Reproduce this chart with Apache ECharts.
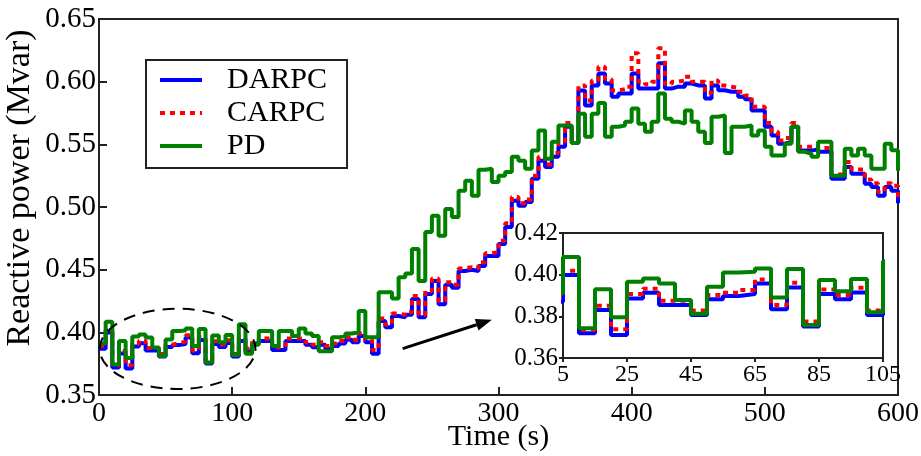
<!DOCTYPE html>
<html><head><meta charset="utf-8">
<script src="https://cdn.jsdelivr.net/npm/echarts@6/dist/echarts.min.js"></script>
<style>html,body{margin:0;padding:0;background:#fff}#c{width:921px;height:456px}</style>
</head><body><div id="c"></div>
<script>
// time stamps (s), one value every 5 s
const times = Array.from({length: 121}, (_, i) => i * 5);

const darpc = [
0.387,0.3998,0.3719,0.3831,0.3711,0.3886,0.3913,0.3855,0.3855,0.3807,
0.3882,0.3898,0.3907,0.3958,0.3834,0.3939,0.3751,0.3907,0.3882,0.3915,
0.3807,0.393,0.385,0.391,0.393,0.393,0.386,0.386,0.393,0.393,
0.393,0.390,0.388,0.390,0.387,0.389,0.391,0.394,0.392,0.397,
0.392,0.383,0.409,0.404,0.413,0.412,0.414,0.4265,0.412,0.4305,
0.441,0.4225,0.438,0.4355,0.449,0.450,0.449,0.453,0.461,0.461,
0.4705,0.484,0.505,0.501,0.504,0.5225,0.537,0.532,0.540,0.548,
0.564,0.551,0.593,0.581,0.597,0.6066,0.5985,0.588,0.5905,0.5905,
0.6066,0.5945,0.5945,0.5945,0.6146,0.5945,0.596,0.596,0.5985,0.597,
0.597,0.5865,0.597,0.5932,0.592,0.592,0.588,0.586,0.577,0.577,
0.564,0.557,0.5505,0.552,0.564,0.545,0.545,0.546,0.544,0.544,
0.5225,0.5225,0.532,0.5265,0.5265,0.5185,0.516,0.509,0.516,0.513,
0.503];

const carpc = [
0.389,0.4019,0.3735,0.3851,0.3738,0.3907,0.3933,0.3875,0.3875,0.3828,
0.3902,0.3913,0.3926,0.3977,0.3855,0.3961,0.3775,0.3929,0.3902,0.3937,
0.3828,0.396,0.387,0.393,0.395,0.395,0.388,0.388,0.395,0.395,
0.395,0.392,0.390,0.392,0.389,0.391,0.393,0.396,0.394,0.399,
0.394,0.386,0.411,0.406,0.415,0.414,0.416,0.429,0.414,0.433,
0.443,0.425,0.440,0.438,0.451,0.452,0.451,0.456,0.463,0.464,
0.473,0.487,0.508,0.503,0.506,0.525,0.540,0.534,0.543,0.552,
0.567,0.553,0.597,0.585,0.601,0.612,0.602,0.593,0.594,0.596,
0.6226,0.600,0.598,0.600,0.6266,0.598,0.600,0.601,0.604,0.600,
0.600,0.591,0.601,0.597,0.596,0.595,0.592,0.589,0.580,0.580,
0.567,0.560,0.553,0.555,0.567,0.548,0.548,0.549,0.547,0.547,
0.526,0.526,0.536,0.530,0.530,0.522,0.519,0.512,0.519,0.517,
0.507];

const pd = [
0.391,0.4085,0.3743,0.393,0.3796,0.3966,0.3982,0.3958,0.3878,0.3812,
0.3942,0.401,0.4014,0.403,0.389,0.4027,0.3759,0.3974,0.3921,0.3979,
0.382,0.4065,0.383,0.390,0.401,0.401,0.389,0.401,0.401,0.397,
0.403,0.399,0.397,0.385,0.385,0.396,0.397,0.399,0.400,0.417,
0.396,0.396,0.432,0.432,0.427,0.444,0.447,0.4665,0.441,0.480,
0.493,0.477,0.4985,0.492,0.513,0.521,0.509,0.5297,0.5305,0.520,
0.525,0.528,0.540,0.537,0.5305,0.545,0.561,0.5385,0.552,0.565,
0.565,0.551,0.5745,0.556,0.5745,0.583,0.556,0.564,0.565,0.568,
0.5785,0.5665,0.560,0.568,0.5905,0.5705,0.568,0.5665,0.577,0.568,
0.560,0.551,0.572,0.573,0.543,0.564,0.564,0.565,0.557,0.561,
0.548,0.541,0.541,0.5505,0.564,0.544,0.5425,0.540,0.552,0.552,
0.525,0.525,0.5465,0.541,0.5465,0.541,0.5305,0.5305,0.5505,0.5452,
0.529];

const seriesNames = ['DARPC', 'CARPC', 'PD'];
const insetXTicks = [5, 25, 45, 65, 85, 105];

const font = 'Liberation Serif';
const axisColor = '#222';

function pairs(vals, lo, hi) {
  return times.map((t, i) => [t, vals[i]]).filter(p => p[0] >= lo && p[0] <= hi);
}
const lineStyles = {
  DARPC: {color: '#0000ff', width: 4, type: 'solid'},
  CARPC: {color: '#ff0000', width: 4, type: [5, 5]},
  PD:    {color: '#008000', width: 4, type: 'solid'}
};
function mk(name, vals, idx, lo, hi) {
  const s = lineStyles[name];
  return {
    name, type: 'line', step: 'end', xAxisIndex: idx, yAxisIndex: idx,
    data: pairs(vals, lo, hi), symbol: 'none', clip: true, animation: false,
    lineStyle: {color: s.color, width: s.width, type: s.type},
    itemStyle: {color: s.color},
    emphasis: {disabled: true}
  };
}

const chart = echarts.init(document.getElementById('c'), null, {renderer: 'canvas'});
const option = {
  backgroundColor: '#fff',
  animation: false,
  grid: [
    {left: 99, right: 23, top: 19, bottom: 61, outerBoundsMode: 'none', containLabel: false,
     show: true, borderColor: axisColor, borderWidth: 2, backgroundColor: 'transparent'},
    {left: 563, width: 320, top: 233, height: 125, outerBoundsMode: 'none', containLabel: false,
     show: true, borderColor: axisColor, borderWidth: 2, backgroundColor: '#fff', z: 10}
  ],
  legend: {
    data: seriesNames, orient: 'vertical', left: 146, top: 60,
    itemWidth: 42, itemHeight: 14, itemGap: 3, padding: [5, 20, 7, 12],
    borderColor: axisColor, borderWidth: 2, backgroundColor: '#fff',
    itemStyle: {opacity: 0, borderWidth: 0},
    lineStyle: {width: 4},
    textStyle: {fontFamily: font, fontSize: 30, color: '#000', padding: [0, 0, 0, 20], lineHeight: 30},
    selectedMode: false
  },
  xAxis: [
    {type: 'value', gridIndex: 0, min: 0, max: 600, interval: 100,
     name: 'Time (s)', nameLocation: 'middle', nameGap: 27, nameMoveOverlap: false,
     nameTextStyle: {fontFamily: font, fontSize: 30, color: '#000'},
     axisLine: {lineStyle: {color: axisColor, width: 2}},
     axisTick: {inside: true, length: 8, lineStyle: {color: axisColor, width: 2}},
     axisLabel: {fontFamily: font, fontSize: 28, color: '#000', margin: 5},
     splitLine: {show: false}},
    {type: 'value', gridIndex: 1, min: 5, max: 105,
     axisLine: {lineStyle: {color: axisColor, width: 2}},
     axisTick: {customValues: insetXTicks, length: 4, lineStyle: {color: axisColor, width: 2}},
     axisLabel: {customValues: insetXTicks, fontFamily: font, fontSize: 24, color: '#000', margin: 5},
     splitLine: {show: false}, z: 10}
  ],
  yAxis: [
    {type: 'value', gridIndex: 0, min: 0.35, max: 0.65, interval: 0.05,
     axisLine: {lineStyle: {color: axisColor, width: 2}},
     axisTick: {inside: true, length: 8, lineStyle: {color: axisColor, width: 2}},
     axisLabel: {fontFamily: font, fontSize: 29, color: '#000', margin: 3, formatter: v => v.toFixed(2)},
     splitLine: {show: false}},
    {type: 'value', gridIndex: 1, min: 0.36, max: 0.42, interval: 0.02,
     axisLine: {lineStyle: {color: axisColor, width: 2}},
     axisTick: {length: 4, lineStyle: {color: axisColor, width: 2}},
     axisLabel: {fontFamily: font, fontSize: 25, color: '#000', margin: 5, formatter: v => v.toFixed(2)},
     splitLine: {show: false}, z: 10}
  ],
  series: [
    mk('DARPC', darpc, 0, 0, 600),
    mk('CARPC', carpc, 0, 0, 600),
    mk('PD', pd, 0, 0, 600),
    mk('DARPC', darpc, 1, 0, 110),
    mk('CARPC', carpc, 1, 0, 110),
    mk('PD', pd, 1, 0, 110)
  ]
};
option.series.slice(3).forEach(s => { s.z = 12; });
chart.setOption(option);

// annotations: dashed ellipse around the 0-120 s region and an arrow toward the inset
const c = chart.convertToPixel({gridIndex: 0}, [59, 0.3868]);
const e1 = chart.convertToPixel({gridIndex: 0}, [117.5, 0.3868 + 0.032]);
const a0 = chart.convertToPixel({gridIndex: 0}, [228, 0.387]);
const a1 = chart.convertToPixel({gridIndex: 0}, [295, 0.410]);
const ang = Math.atan2(a1[1] - a0[1], a1[0] - a0[0]);
const hl = 16, hw = 6;
const tip = a1;
const base = [tip[0] - hl * Math.cos(ang), tip[1] - hl * Math.sin(ang)];
const p1 = [base[0] + hw * Math.sin(ang), base[1] - hw * Math.cos(ang)];
const p2 = [base[0] - hw * Math.sin(ang), base[1] + hw * Math.cos(ang)];
chart.setOption({
  graphic: [
    {type: 'ellipse', shape: {cx: c[0], cy: c[1], rx: e1[0] - c[0], ry: c[1] - e1[1]},
     style: {fill: 'none', stroke: '#000', lineWidth: 2, lineDash: [12, 8]}, z: 20, silent: true},
    {type: 'line', shape: {x1: a0[0], y1: a0[1], x2: base[0], y2: base[1]},
     style: {stroke: '#000', lineWidth: 3}, z: 20, silent: true},
    {type: 'polygon', shape: {points: [tip, p1, p2]}, style: {fill: '#000'}, z: 20, silent: true},
    {type: 'text', x: 20, y: 188, rotation: Math.PI / 2,
     style: {text: 'Reactive power (Mvar)', fontFamily: font, fontSize: 34, fill: '#000', align: 'center', verticalAlign: 'middle'},
     z: 20, silent: true}
  ]
});
</script></body></html>
